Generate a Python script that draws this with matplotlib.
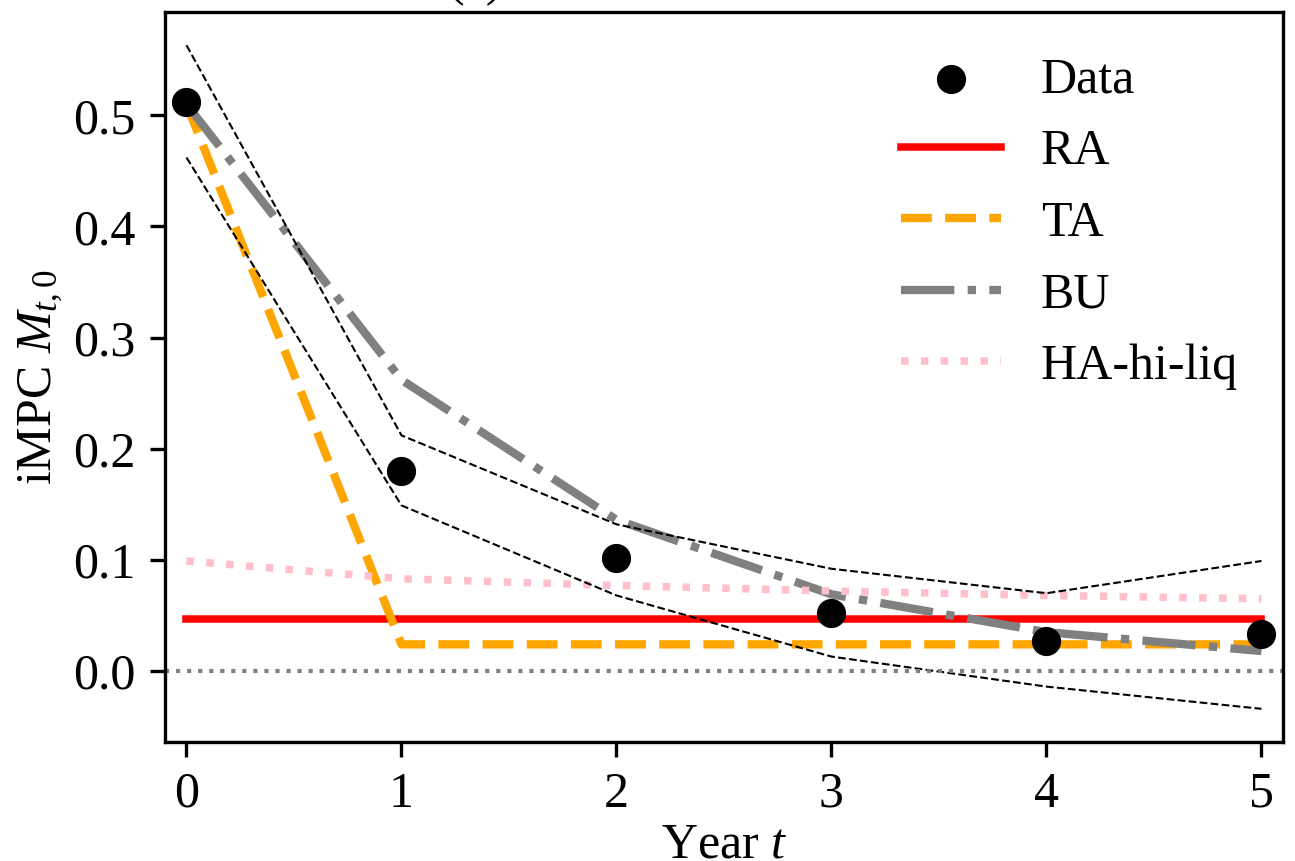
import numpy as np
import matplotlib
matplotlib.use("Agg")
import matplotlib.pyplot as plt

plt.rcParams['font.family'] = ['Liberation Serif', 'DejaVu Serif']
plt.rcParams['mathtext.fontset'] = 'custom'
plt.rcParams['mathtext.rm'] = 'Liberation Serif'
plt.rcParams['mathtext.it'] = 'Liberation Serif:italic'
plt.rcParams['font.size'] = 12

# years
years = [0, 1, 2, 3, 4, 5]

# estimated iMPCs
data_mpc = [0.512, 0.180, 0.102, 0.052, 0.027, 0.033]
band_upper = [0.563, 0.212, 0.132, 0.092, 0.070, 0.099]
band_lower = [0.462, 0.149, 0.068, 0.013, -0.014, -0.034]
ra_mpc = [0.047, 0.047, 0.047, 0.047, 0.047, 0.047]
ta_mpc = [0.510, 0.024, 0.024, 0.024, 0.024, 0.024]
bu_mpc = [0.510, 0.262, 0.136, 0.069, 0.035, 0.018]
ha_mpc = [0.099, 0.083, 0.077, 0.072, 0.068, 0.065]

fig = plt.figure(figsize=(1295 / 300, 861 / 300), dpi=300)
ax = fig.add_axes([0.1274, 0.1382, 0.8633, 0.8478])

ax.scatter(years, data_mpc, color='black', s=36, zorder=5, label='Data')
ax.plot(years, ra_mpc, color='red', lw=1.8, ls='-', label='RA')
ax.plot(years, ta_mpc, color='orange', lw=2, ls='--', label='TA')
ax.plot(years, bu_mpc, color='gray', lw=2, ls='-.', label='BU')
ax.plot(years, ha_mpc, color='pink', lw=1.8, ls=':', label='HA-hi-liq')
ax.plot(years, band_upper, color='black', lw=0.5, ls='--')
ax.plot(years, band_lower, color='black', lw=0.5, ls='--')
ax.axhline(0, color='gray', lw=1, ls=':')

ax.set_xlim(-0.1, 5.1)
ax.set_xticks(years)
ax.set_xlabel('Year $t$', labelpad=1)
ax.set_ylabel('iMPC $M_{t,0}$', labelpad=2)
ax.legend(loc='upper right', frameon=False)

fig.text(476 / 1295, 1.006, '(a)', ha='center', va='baseline')

fig.savefig('out.png', dpi=300)
